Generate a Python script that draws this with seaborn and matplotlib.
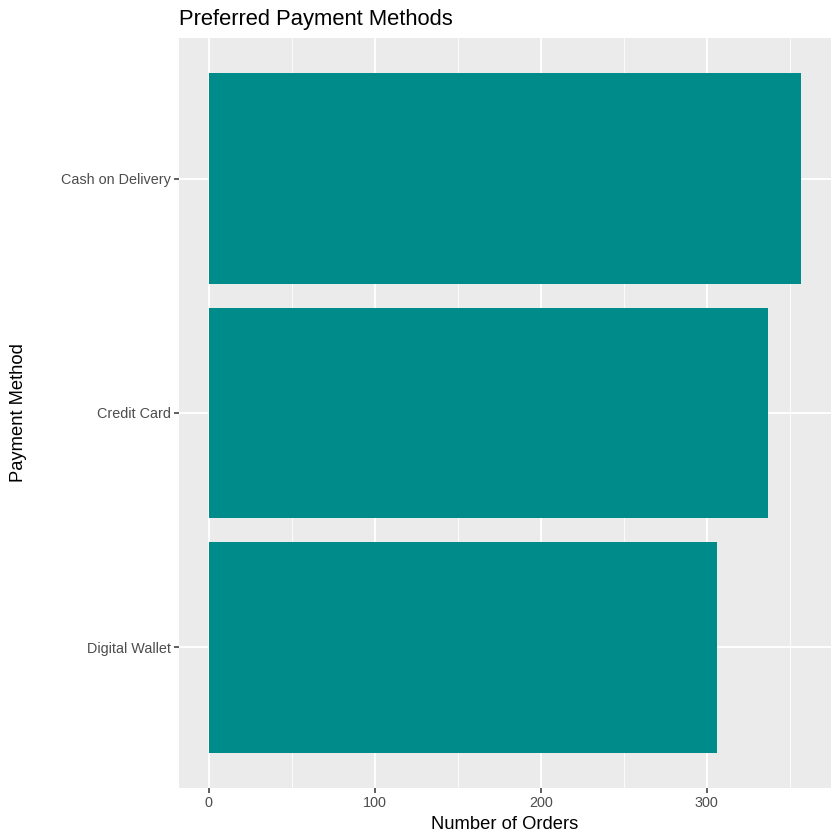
import matplotlib
matplotlib.use("Agg")
import matplotlib.pyplot as plt
import seaborn as sns
import pandas as pd
from matplotlib.ticker import MultipleLocator

methods = ["Cash on Delivery", "Credit Card", "Digital Wallet"]
orders = [357, 337, 306]

df = pd.DataFrame({"method": methods, "orders": orders})

sns.set_theme(style="darkgrid")
plt.rcParams["font.family"] = ["Liberation Sans", "DejaVu Sans"]

fig = plt.figure(figsize=(8.4, 8.4), dpi=100)
ax = fig.add_axes([179/840, 1-788/840, (831-179)/840, (788-38)/840])

sns.barplot(data=df, x="orders", y="method", order=methods, orient="h",
            color="#008B8B", saturation=1, width=0.9, ax=ax, edgecolor="none")

ax.set_facecolor("#EBEBEB")
ax.set_xlim(-17.85, 374.85)
ax.set_ylim(2.6, -0.6)
ax.xaxis.set_major_locator(MultipleLocator(100))
ax.xaxis.set_minor_locator(MultipleLocator(50))
ax.grid(which="major", color="white", linewidth=1.3)
ax.grid(which="minor", axis="x", color="white", linewidth=0.6)
ax.set_axisbelow(True)
for s in ax.spines.values():
    s.set_visible(False)

ax.tick_params(axis="both", which="major", length=3.3, width=1.1, color="#333333",
               labelcolor="#4D4D4D", labelsize=10.4, pad=2.6, bottom=True, left=True)
ax.tick_params(axis="x", which="minor", length=0)

ax.set_xlabel("Number of Orders", fontsize=13.2, color="black", labelpad=4)
ax.set_ylabel("Payment Method", fontsize=13.2, color="black")
ax.yaxis.set_label_coords((27 - 179) / 652, 0.5)
ax.set_title("Preferred Payment Methods", fontsize=15.8, loc="left", color="black", pad=9)

fig.savefig("out.png", dpi=100)
